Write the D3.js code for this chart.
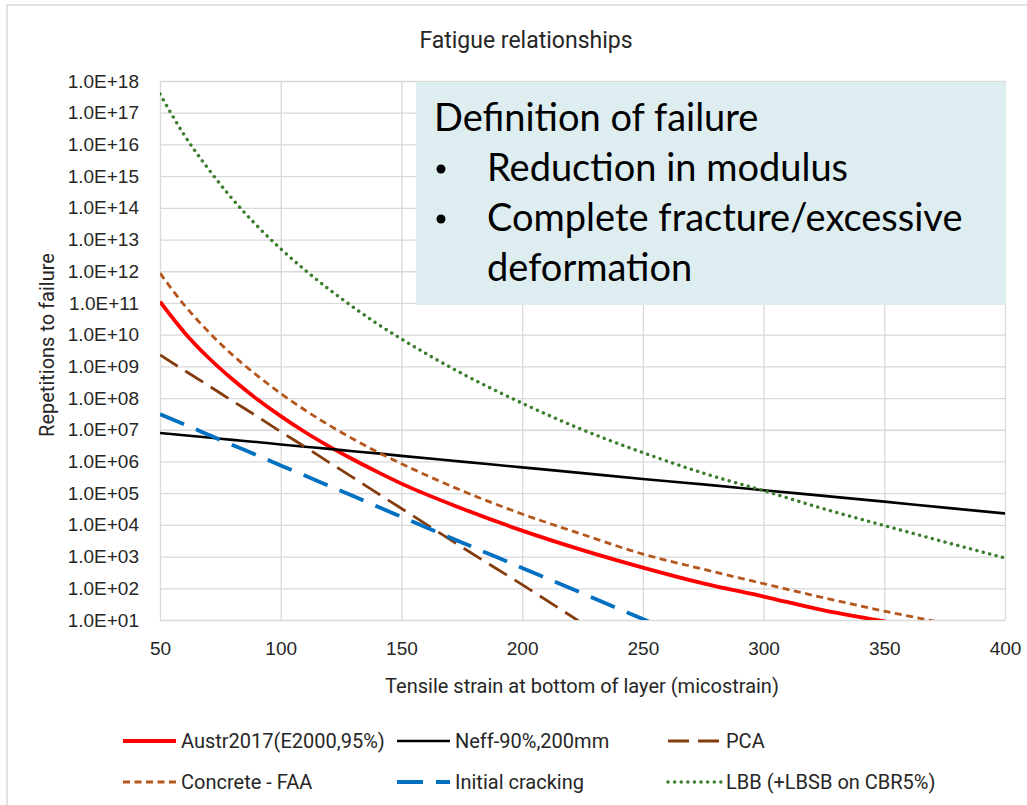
<!DOCTYPE html>
<html>
<head>
<meta charset="utf-8">
<script src="https://cdn.jsdelivr.net/npm/d3@7/dist/d3.min.js"></script>
<style>
  html, body { margin: 0; padding: 0; background: #fff; }
  svg { display: block; }
  .tick line { stroke: #d9d9d9; stroke-width: 1.3; }
  .tick text { font-family: "Liberation Sans", Arial, sans-serif; font-size: 19px; fill: #262626; }
</style>
</head>
<body>
<div id="chart"></div>
<script>
const strainGrid = [50, 60, 70, 80, 90, 100, 110, 120, 130, 140, 150, 175, 200, 225, 250, 275, 300, 325, 350, 375, 400];

// repetitions to failure, one array per relationship
const austr2017 = [1.1e11, 1.2e10, 1.9e9, 3.9e8, 9.5e7, 2.7e7, 8.5e6, 3.0e6, 1.15e6, 4.7e5, 2.0e5, 3.3e4, 6.6e3, 1.6e3, 450, 143, 55, 20, 9, 3.5, null];
const neff = [7.9e6, 6.7e6, 5.7e6, 4.8e6, 4.1e6, 3.45e6, 2.9e6, 2.5e6, 2.1e6, 1.8e6, 1.5e6, 9.9e5, 6.5e5, 4.3e5, 2.8e5, 1.9e5, 1.24e5, 8.2e4, 5.4e4, 3.5e4, 2.3e4];
const pca = [2.3e9, 7.5e8, 2.5e8, 8.1e7, 2.7e7, 8.7e6, 2.9e6, 9.4e5, 3.1e5, 1.0e5, 3.3e4, 2.0e3, 130, 7.8, null, null, null, null, null, null, null];
const concreteFAA = [8.7e11, 8.7e10, 1.25e10, 2.3e9, 5.3e8, 1.4e8, 4.2e7, 1.4e7, 5.1e6, 2.0e6, 8.5e5, 1.2e5, 2.2e4, 5.0e3, 1.2e3, 400, 140, 50, 19, 8, null];
const initialCracking = [3.1e7, 1.5e7, 7.0e6, 3.3e6, 1.6e6, 7.5e5, 3.6e5, 1.7e5, 8.1e4, 3.8e4, 1.8e4, 2.8e3, 440, 69, 10.7, 1.7, null, null, null, null, null];
const lbb = [3.9e17, 2.0e16, 1.7e15, 1.9e14, 2.8e13, 5.1e12, 1.1e12, 2.7e11, 7.4e10, 2.2e10, 7.3e9, 6.0e8, 6.9e7, 1.0e7, 1.9e6, 4.3e5, 1.2e5, 3.2e4, 9.5e3, 2.9e3, 900];

const seriesNames = ["Austr2017(E2000,95%)", "Neff-90%,200mm", "PCA", "Concrete - FAA", "Initial cracking", "LBB (+LBSB on CBR5%)"];
const seriesValues = [austr2017, neff, pca, concreteFAA, initialCracking, lbb];

const xTicks = [50, 100, 150, 200, 250, 300, 350, 400];
const yExponents = d3.range(1, 19);

const noteTitle = "Definition of failure";
const noteBullets = [["Reduction in modulus"], ["Complete fracture/excessive", "deformation"]];

// line styles, in series order
const styles = [
  { color: "#ff0000", width: 3.8, dash: null, cap: "butt" },
  { color: "#000000", width: 2.6, dash: null, cap: "butt" },
  { color: "#843c0c", width: 2.8, dash: "21,9", cap: "butt" },
  { color: "#b5561c", width: 2.8, dash: "7,4.5", cap: "butt" },
  { color: "#0070c0", width: 3.8, dash: "26,13", cap: "butt" },
  { color: "#3a7d2c", width: 3.4, dash: "0.1,6.5", cap: "round" }
];

const W = 1027, H = 805;
const plot = { left: 160, right: 1005, top: 81, bottom: 620 };

const svg = d3.select("#chart").append("svg")
  .attr("width", W)
  .attr("height", H);

// outer chart frame
svg.append("rect")
  .attr("x", 7).attr("y", 5)
  .attr("width", W + 40).attr("height", H + 40)
  .attr("fill", "#fff")
  .attr("stroke", "#d9d9d9")
  .attr("stroke-width", 1.5);

const x = d3.scaleLinear().domain([50, 400]).range([plot.left, plot.right]);
const y = d3.scaleLog().domain([10, 1e18]).range([plot.bottom, plot.top]);

const fmt = d => {
  const e = Math.round(Math.log10(d));
  return "1.0E+" + (e < 10 ? "0" + e : e);
};

// y axis + horizontal grid
const yAxis = svg.append("g")
  .attr("transform", "translate(" + plot.left + ",0)")
  .call(d3.axisLeft(y)
    .tickValues(yExponents.map(e => Math.pow(10, e)))
    .tickFormat(fmt)
    .tickSize(-(plot.right - plot.left))
    .tickPadding(21));
yAxis.select(".domain").remove();

// x axis + vertical grid
const xAxis = svg.append("g")
  .attr("transform", "translate(0," + plot.bottom + ")")
  .call(d3.axisBottom(x)
    .tickValues(xTicks)
    .tickSize(-(plot.bottom - plot.top)));
xAxis.select(".domain").remove();
xAxis.selectAll("text").attr("y", 28).attr("dy", "0.35em");

// clip the curves to the plot area
svg.append("clipPath").attr("id", "plotClip")
  .append("rect")
  .attr("x", plot.left).attr("y", plot.top)
  .attr("width", plot.right - plot.left)
  .attr("height", plot.bottom - plot.top);

const line = d3.line()
  .defined(d => d.n != null)
  .x(d => x(d.s))
  .y(d => y(d.n))
  .curve(d3.curveMonotoneX);

const curves = svg.append("g").attr("clip-path", "url(#plotClip)");
seriesValues.forEach((vals, i) => {
  const pts = strainGrid.map((s, j) => ({ s: s, n: vals[j] }));
  const st = styles[i];
  curves.append("path")
    .datum(pts)
    .attr("d", line)
    .attr("fill", "none")
    .attr("stroke", st.color)
    .attr("stroke-width", st.width)
    .attr("stroke-dasharray", st.dash)
    .attr("stroke-linecap", st.cap)
    .attr("stroke-linejoin", "round");
});

// titles
svg.append("text")
  .attr("x", 526).attr("y", 40).attr("dy", "0.35em")
  .attr("text-anchor", "middle")
  .attr("font-family", "Roboto, sans-serif")
  .attr("font-size", 23)
  .attr("fill", "#262626")
  .text("Fatigue relationships");

svg.append("text")
  .attr("x", 582).attr("y", 686).attr("dy", "0.35em")
  .attr("text-anchor", "middle")
  .attr("font-family", "Roboto, sans-serif")
  .attr("font-size", 20)
  .attr("fill", "#262626")
  .text("Tensile strain at bottom of layer (micostrain)");

svg.append("text")
  .attr("transform", "translate(47,345) rotate(-90)")
  .attr("dy", "0.35em")
  .attr("text-anchor", "middle")
  .attr("font-family", "Roboto, sans-serif")
  .attr("font-size", 20)
  .attr("fill", "#262626")
  .text("Repetitions to failure");

// note box
const note = svg.append("g");
note.append("rect")
  .attr("x", 416).attr("y", 82)
  .attr("width", 590).attr("height", 223)
  .attr("fill", "#deedf0");

const noteFont = "Lato, 'Open Sans', sans-serif";
note.append("text")
  .attr("x", 434).attr("y", 131)
  .attr("font-family", noteFont)
  .attr("font-size", 38)
  .attr("fill", "#000")
  .text(noteTitle);

let lineY = 181;
noteBullets.forEach(b => {
  note.append("circle")
    .attr("cx", 441).attr("cy", lineY - 12)
    .attr("r", 4.5)
    .attr("fill", "#000");
  b.forEach(t => {
    note.append("text")
      .attr("x", 487).attr("y", lineY)
      .attr("font-family", noteFont)
      .attr("font-size", 38)
      .attr("fill", "#000")
      .text(t);
    lineY += 50;
  });
});

// legend
const legendPos = [
  [123, 741], [397, 741], [668, 741],
  [123, 782], [397, 782], [668, 782]
];
const legend = svg.append("g");
seriesNames.forEach((name, i) => {
  const [lx, ly] = legendPos[i];
  const st = styles[i];
  legend.append("line")
    .attr("x1", lx).attr("x2", lx + 53)
    .attr("y1", ly).attr("y2", ly)
    .attr("stroke", st.color)
    .attr("stroke-width", st.width)
    .attr("stroke-dasharray", st.dash)
    .attr("stroke-linecap", st.cap);
  legend.append("text")
    .attr("x", lx + 58).attr("y", ly).attr("dy", "0.35em")
    .attr("font-family", "Roboto, sans-serif")
    .attr("font-size", 20)
    .attr("fill", "#262626")
    .text(name);
});
</script>
</body>
</html>
